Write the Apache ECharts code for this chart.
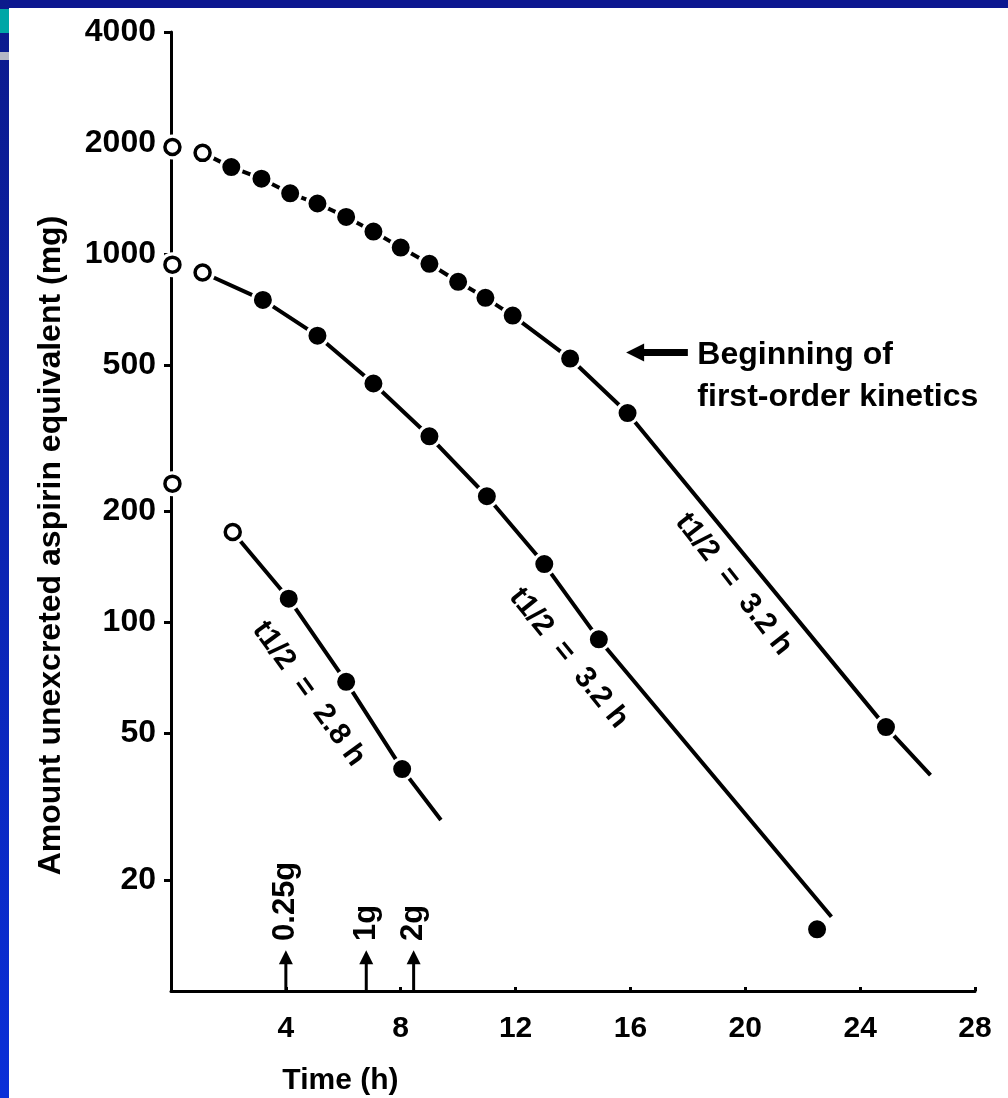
<!DOCTYPE html>
<html><head><meta charset="utf-8">
<script src="https://cdn.jsdelivr.net/npm/echarts@6/dist/echarts.min.js"></script>
<style>html,body{margin:0;padding:0;background:#fff;}#c{width:1008px;height:1098px;}</style>
</head><body><div id="c"></div>
<script>
// ---- data ----
const xTicks = [4, 8, 12, 16, 20, 24, 28];
const yTicks = [20, 50, 100, 200, 500, 1000, 2000, 4000];

// upper curve (first point is an open circle)
const topTime   = [1.1, 2.1, 3.15, 4.15, 5.1, 6.1, 7.05, 8.0, 9.0, 10.0, 10.95, 11.9, 13.9, 15.9, 24.9];
const topAmount = [1880, 1720, 1600, 1460, 1370, 1260, 1150, 1040, 940, 840, 760, 680, 520, 370, 52];
const topLineEnd = [26.45, 38.5];

// middle curve (first point open circle; last point lies off the drawn line)
const midTime   = [1.1, 3.2, 5.1, 7.05, 9.0, 11.0, 13.0, 14.9, 22.5];
const midAmount = [890, 750, 600, 445, 320, 220, 144, 90, 14.7];
const midLineEnd = [23.0, 15.9];

// lower curve (first point open circle)
const lowTime   = [2.15, 4.1, 6.1, 8.05];
const lowAmount = [176, 116, 69, 40];
const lowLineEnd = [9.4, 29.1];

// open circles sitting on the y axis (t ~ 0)
const axisOpenTime   = [0.05, 0.05, 0.05];
const axisOpenAmount = [1950, 935, 238];

// doses marked with arrows on the time axis
const doseTime  = [4.0, 6.8, 8.45];
const doseLabel = ['0.25g', '1g', '2g'];

// half-life annotations
const halfLifeLabel  = ['t1/2  =  2.8 h', 't1/2  =  3.2 h', 't1/2  =  3.2 h'];
const halfLifeTime   = [4.8, 13.85, 19.6];
const halfLifeAmount = [64, 80, 127];
const halfLifeAngle  = [54, 51, 52];

const noteText = 'Beginning of\nfirst-order kinetics';
const noteTime = 18.33, noteAmount = 466;
const noteArrow = {fromTime: 18.0, toTime: 15.85, amount: 540};

const xTitle = 'Time (h)';
const yTitle = 'Amount unexcreted aspirin equivalent (mg)';

// ---- chart ----
const FONT = "'Liberation Sans', Arial, sans-serif";
const zip = (a, b) => a.map((v, i) => [v, b[i]]);

const topLine = zip(topTime, topAmount).concat([topLineEnd]);
const midLine = zip(midTime.slice(0, -1), midAmount.slice(0, -1)).concat([midLineEnd]);
const lowLine = zip(lowTime, lowAmount).concat([lowLineEnd]);

const filled = zip(topTime.slice(1), topAmount.slice(1))
  .concat(zip(midTime.slice(1), midAmount.slice(1)))
  .concat(zip(lowTime.slice(1), lowAmount.slice(1)));
const open = zip(axisOpenTime, axisOpenAmount)
  .concat([[topTime[0], topAmount[0]], [midTime[0], midAmount[0]], [lowTime[0], lowAmount[0]]]);

const lineSeries = (data) => ({
  type: 'line', data, showSymbol: false, silent: true, z: 2,
  lineStyle: {color: '#000', width: 4}, animation: false
});

const option = {
  backgroundColor: '#fff',
  animation: false,
  grid: {left: 171, right: 33, top: 32, bottom: 107},
  xAxis: {
    type: 'value', min: 0, max: 28, interval: 4,
    axisLine: {show: true, lineStyle: {color: '#000', width: 3}},
    axisTick: {show: true, inside: true, length: 4, lineStyle: {color: '#000', width: 3}},
    axisLabel: {
      color: '#000', fontSize: 30, fontWeight: 'bold', fontFamily: FONT, margin: 23,
      formatter: v => (xTicks.indexOf(v) >= 0 ? String(v) : '')
    },
    splitLine: {show: false}
  },
  yAxis: {
    type: 'log', logBase: 10, min: 10, max: 4000,
    axisLine: {show: true, lineStyle: {color: '#000', width: 3}},
    axisTick: {show: true, customValues: yTicks, length: 7, lineStyle: {color: '#000', width: 3}},
    axisLabel: {customValues: yTicks, color: '#000', fontSize: 32, fontWeight: 'bold', fontFamily: FONT, margin: 15,
      formatter: v => String(Math.round(v))},
    splitLine: {show: false},
    minorTick: {show: false}
  },
  series: [
    lineSeries(topLine),
    lineSeries(midLine),
    lineSeries(lowLine),
    {
      type: 'scatter', data: filled, symbol: 'circle', symbolSize: 21, z: 3, silent: true,
      itemStyle: {color: '#000', borderColor: '#fff', borderWidth: 3, opacity: 1}
    },
    {
      type: 'scatter', data: open, symbol: 'circle', symbolSize: 25, z: 3, silent: true,
      itemStyle: {color: '#fff', opacity: 1}
    },
    {
      type: 'scatter', data: open, symbol: 'circle', symbolSize: 15, z: 4, silent: true,
      itemStyle: {color: '#fff', borderColor: '#000', borderWidth: 3.5, opacity: 1}
    }
  ]
};

const chart = echarts.init(document.getElementById('c'));
chart.setOption(option);

const px = (t, v) => chart.convertToPixel({xAxisIndex: 0, yAxisIndex: 0}, [t, v]);
const g = [];

// slide frame
g.push({type: 'rect', shape: {x: 0, y: 0, width: 1008, height: 8}, style: {fill: '#0c1790'}, z: 100});
g.push({type: 'rect', shape: {x: 0, y: 0, width: 9, height: 1098},
  style: {fill: new echarts.graphic.LinearGradient(0, 0, 0, 1, [{offset: 0, color: '#0c1a8c'}, {offset: 1, color: '#0a2fd8'}])}, z: 100});
g.push({type: 'rect', shape: {x: 0, y: 9, width: 9, height: 24}, style: {fill: '#00a6a6'}, z: 101});
g.push({type: 'rect', shape: {x: 0, y: 52, width: 9, height: 8}, style: {fill: '#b4b6c4'}, z: 101});

// half-life labels
halfLifeLabel.forEach((s, i) => {
  const p = px(halfLifeTime[i], halfLifeAmount[i]);
  g.push({type: 'text', x: p[0], y: p[1], rotation: -halfLifeAngle[i] * Math.PI / 180, z: 10,
    style: {text: s, fill: '#000', font: 'bold 30px ' + FONT, textAlign: 'center', textVerticalAlign: 'middle'}});
});

// first-order note and arrow
{
  const p = px(noteTime, noteAmount);
  g.push({type: 'text', x: p[0], y: p[1], z: 10,
    style: {text: noteText, fill: '#000', font: 'bold 32px ' + FONT, textAlign: 'left', textVerticalAlign: 'middle', lineHeight: 42}});
  const a = px(noteArrow.fromTime, noteArrow.amount);
  const b = px(noteArrow.toTime, noteArrow.amount);
  g.push({type: 'line', shape: {x1: a[0], y1: a[1], x2: b[0] + 14, y2: b[1]}, style: {stroke: '#000', lineWidth: 7}, z: 10});
  g.push({type: 'polygon', shape: {points: [[b[0], b[1]], [b[0] + 18, b[1] - 9], [b[0] + 18, b[1] + 9]]}, style: {fill: '#000'}, z: 10});
}

// dose arrows
doseTime.forEach((t, i) => {
  const base = px(t, 10);
  const tip = px(t, 12.9);
  g.push({type: 'line', shape: {x1: base[0], y1: base[1], x2: tip[0], y2: tip[1] + 10}, style: {stroke: '#000', lineWidth: 3}, z: 10});
  g.push({type: 'polygon', shape: {points: [[tip[0], tip[1]], [tip[0] - 7, tip[1] + 14], [tip[0] + 7, tip[1] + 14]]}, style: {fill: '#000'}, z: 10});
  const lp = px(t, 13.67);
  g.push({type: 'text', x: lp[0], y: lp[1], rotation: Math.PI / 2, z: 10,
    style: {text: doseLabel[i], fill: '#000', font: 'bold 31px ' + FONT, textAlign: 'left', textVerticalAlign: 'middle'}});
});

// axis titles
{
  const p = px(5.9, 10);
  g.push({type: 'text', x: p[0], y: p[1] + 90, z: 10,
    style: {text: xTitle, fill: '#000', font: 'bold 30px ' + FONT, textAlign: 'center', textVerticalAlign: 'middle'}});
  const o = px(0, 10), q = px(0, 4000);
  g.push({type: 'text', x: o[0] - 120, y: (o[1] + q[1]) / 2 + 34, rotation: Math.PI / 2, z: 10,
    style: {text: yTitle, fill: '#000', font: 'bold 32px ' + FONT, textAlign: 'center', textVerticalAlign: 'middle'}});
}

chart.setOption({graphic: g});
</script>
</body></html>
